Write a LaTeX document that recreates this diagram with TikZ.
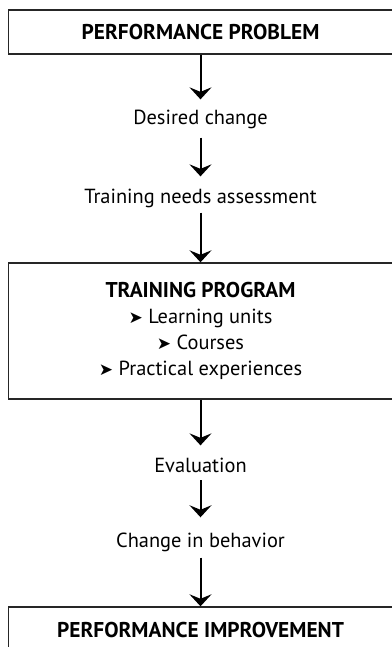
\documentclass[tikz,border=0pt]{standalone}
\usepackage{fontspec}
\setmainfont{PT Sans}
\newfontfamily\symfont{DejaVu Sans}
\usetikzlibrary{arrows.meta}
\newcommand{\bul}{{\symfont\fontsize{17}{17}\selectfont ➤}\ }
\begin{document}
\begin{tikzpicture}[x=1pt,y=-1pt,
  font=\fontsize{20.4}{26}\selectfont,
  boldfont/.style={font=\fontsize{21.4}{26}\selectfont\bfseries},
  box/.style={draw=black!85, line width=1.4pt, minimum width=384pt, inner sep=0pt, align=center},
  lbl/.style={inner sep=0pt, anchor=base},
  arr/.style={line width=2pt, -{Stealth[length=12pt, width=22pt, inset=4.5pt]}}]
\useasboundingbox (0,0) rectangle (391,647);
\node[box, minimum height=44pt, boldfont] (b1) at (200.5,32) {PERFORMANCE PROBLEM};
\node[lbl] (d) at (200.5,125) {Desired change};
\node[lbl] (t) at (200.5,203) {Training needs assessment};
\node[box, minimum height=136pt] (b2) at (200.5,331) {{\fontsize{21.4}{26}\selectfont\bfseries TRAINING PROGRAM}\\ \bul Learning units\\ \bul Courses\\ \bul Practical experiences};
\node[lbl] (e) at (200.5,472) {Evaluation};
\node[lbl] (c) at (200.5,547) {Change in behavior};
\node[box, minimum height=46pt, boldfont] (b3) at (200.5,630) {PERFORMANCE IMPROVEMENT};
\draw[arr, shorten >=11pt] (b1.south) -- (d.north);
\draw[arr, shorten <=8pt, shorten >=12pt] (d.south) -- (t.north);
\draw[arr, shorten <=5pt] (t.south) -- (b2.north);
\draw[arr, shorten >=12pt] (b2.south) -- (e.north);
\draw[arr, shorten <=8pt, shorten >=15pt] (e.south) -- (c.north);
\draw[arr, shorten <=6pt] (c.south) -- (b3.north);
\end{tikzpicture}
\end{document}
